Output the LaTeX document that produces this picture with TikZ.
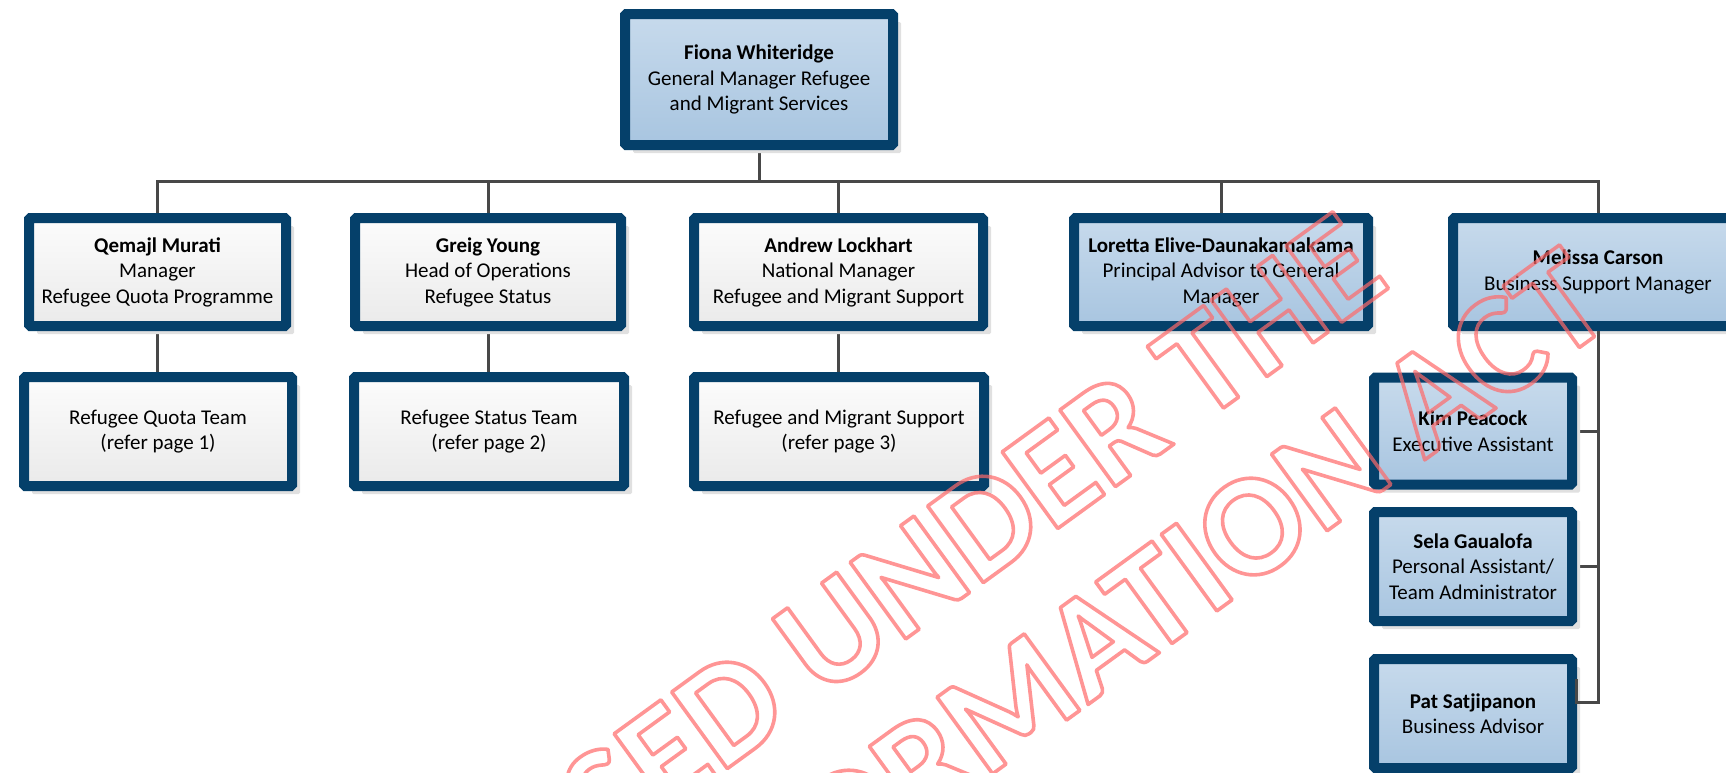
\documentclass[tikz,border=0pt]{standalone}
\usepackage{fontspec}
\setmainfont{Carlito}
\usetikzlibrary{shadows,backgrounds}
\definecolor{navy}{RGB}{5,64,106}
\definecolor{bluetop}{RGB}{199,218,236}
\definecolor{bluebot}{RGB}{168,197,224}
\definecolor{graytop}{RGB}{252,252,252}
\definecolor{graybot}{RGB}{234,234,234}
\definecolor{conn}{RGB}{72,72,72}
\definecolor{wm}{RGB}{255,105,105}
\newcommand{\outlinetext}[1]{\special{pdf:literal direct 1 Tr 3.6 w 1 j 1 J}#1\special{pdf:literal direct 0 Tr}}
\tikzset{
  boxbase/.style={draw=navy, line width=10pt, rounded corners=1.5pt, align=center,
    inner sep=2pt, text=black, font=\fontsize{21}{25.5}\selectfont,
    drop shadow={shadow xshift=8pt, shadow yshift=-8pt, fill=black!12, opacity=1}},
  bluebox/.style={boxbase, top color=bluetop, bottom color=bluebot},
  graybox/.style={boxbase, top color=graytop, bottom color=graybot},
  link/.style={draw=conn, line width=3pt},
  wmark/.style={text=wm, opacity=0.7, rotate=36, inner sep=0pt,
    font=\fontsize{146}{170}\selectfont\bfseries}
}
\begin{document}
\begin{tikzpicture}[x=1pt,y=-1pt]
\useasboundingbox (0,0) rectangle (1726,772);
\clip (0,0) rectangle (1726,772);

\node[bluebox, minimum width=268pt, minimum height=131pt] (top) at (759,79.5)
  {\textbf{Fiona Whiteridge}\\General Manager Refugee\\and Migrant Services};

\node[graybox, minimum width=257pt, minimum height=108pt] (q) at (157.5,272)
  {\textbf{Qemajl Murati}\\Manager\\Refugee Quota Programme};
\node[graybox, minimum width=266pt, minimum height=108pt] (g) at (488,272)
  {\textbf{Greig Young}\\Head of Operations\\Refugee Status};
\node[graybox, minimum width=289pt, minimum height=108pt] (a) at (838.5,272)
  {\textbf{Andrew Lockhart}\\National Manager\\Refugee and Migrant Support};
\node[bluebox, minimum width=294pt, minimum height=108pt] (l) at (1221,272)
  {\textbf{Loretta Elive-Daunakamakama}\\Principal Advisor to General\\Manager};
\node[bluebox, minimum width=290pt, minimum height=108pt] (m) at (1598,272)
  {\textbf{Melissa Carson}\\Business Support Manager};

\node[graybox, minimum width=268pt, minimum height=109pt] (rqt) at (158,431.5)
  {Refugee Quota Team\\(refer page 1)};
\node[graybox, minimum width=270pt, minimum height=109pt] (rst) at (489,431.5)
  {Refugee Status Team\\(refer page 2)};
\node[graybox, minimum width=290pt, minimum height=109pt] (rms) at (839,431.5)
  {Refugee and Migrant Support\\(refer page 3)};

\node[bluebox, minimum width=198pt, minimum height=107pt] (kim) at (1473,431)
  {\textbf{Kim Peacock}\\Executive Assistant};
\node[bluebox, minimum width=198pt, minimum height=109pt] (sela) at (1473,566.5)
  {\textbf{Sela Gaualofa}\\Personal Assistant/\\Team Administrator};
\node[bluebox, minimum width=198pt, minimum height=109pt] (pat) at (1473,713.5)
  {\textbf{Pat Satjipanon}\\Business Advisor};

\coordinate (bus) at (0,181);
\coordinate (patc) at (1576,702);
\begin{scope}[on background layer]
  \fill[white] (0,0) rectangle (1726,772);
  \draw[link] (top.south) -- (top.south |- bus);
  \draw[link] (q.north) -- (q.north |- bus) -- (m.north |- bus) -- (m.north);
  \draw[link] (g.north) -- (g.north |- bus);
  \draw[link] (a.north) -- (a.north |- bus);
  \draw[link] (l.north) -- (l.north |- bus);
  \draw[link] (q.south) -- (q.south |- rqt.north);
  \draw[link] (g.south) -- (g.south |- rst.north);
  \draw[link] (a.south) -- (a.south |- rms.north);
  \draw[link] (kim.east) -- (kim.east -| m.south);
  \draw[link] (sela.east) -- (sela.east -| m.south);
\end{scope}
\draw[link] (m.south) -- (m.south |- patc) -- (patc) -- ++(0,-23);

\node[wmark] (wm1) at (821,642) {\outlinetext{RELEASED UNDER THE}};
\node[wmark] (wm2) at (887,792) {\outlinetext{OFFICIAL INFORMATION ACT}};
\end{tikzpicture}
\end{document}
